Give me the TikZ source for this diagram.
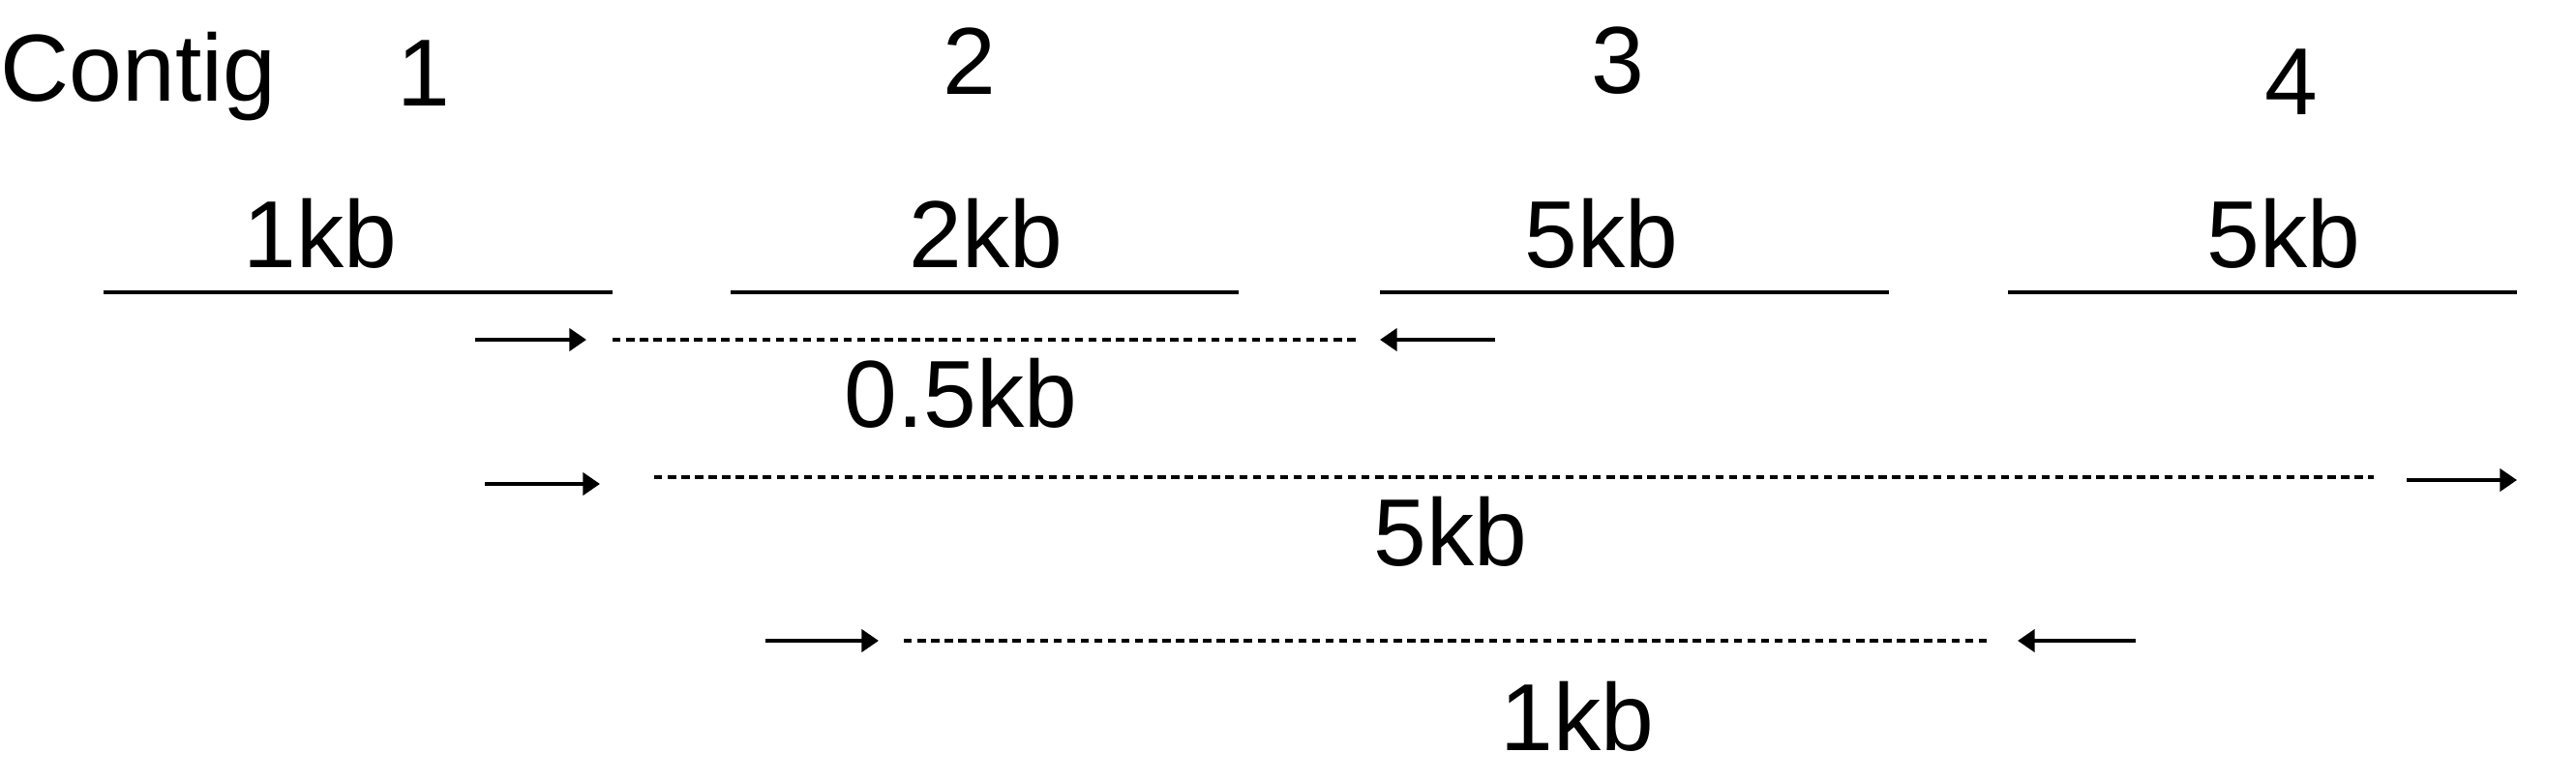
\documentclass[tikz,border=0pt]{standalone}
\usepackage{fontspec}
\setmainfont{Liberation Sans}
\usetikzlibrary{arrows.meta}

\begin{document}
\begin{tikzpicture}
        \useasboundingbox (0,0) rectangle (26.62,8.08);
        \begin{scope}[every node/.style={inner sep=0, font=\fontsize{28}{33}\selectfont}]
                \node[anchor=base west] (T) at (0,7.03) {Contig};
                \node (N1) at (4.38,7.32) {1};
                \node (N2) at (10.02,7.45) {2};
                \node (N3) at (16.72,7.45) {3};
                \node (N4) at (23.68,7.23) {4};
                \node (L1) at (3.31,5.67) {1kb};
                \node (L2) at (10.19,5.67) {2kb};
                \node (L3) at (16.55,5.67) {5kb};
                \node (L4) at (23.60,5.67) {5kb};
                \node (G1) at (9.93,4.02) {0.5kb};
                \node (G2) at (14.99,2.59) {5kb};
                \node (G3) at (16.30,0.68) {1kb};
        \end{scope}
        % contigs
        \coordinate (C1a) at (1.07,5.06);  \coordinate (C1b) at (6.33,5.06);
        \coordinate (C2a) at (7.55,5.06);  \coordinate (C2b) at (12.80,5.06);
        \coordinate (C3a) at (14.26,5.06); \coordinate (C3b) at (19.52,5.06);
        \coordinate (C4a) at (20.75,5.06); \coordinate (C4b) at (26.01,5.06);
        % read pairs
        \coordinate (A1a) at (4.91,4.57);  \coordinate (A1b) at (6.06,4.57);
        \coordinate (D1a) at (6.33,4.57);  \coordinate (D1b) at (14.02,4.57);
        \coordinate (B1a) at (15.45,4.57); \coordinate (B1b) at (14.26,4.57);
        \coordinate (A2a) at (5.01,3.08);  \coordinate (A2b) at (6.20,3.08);
        \coordinate (D2a) at (6.76,3.15);  \coordinate (D2b) at (24.53,3.15);
        \coordinate (B2a) at (24.87,3.12); \coordinate (B2b) at (26.01,3.12);
        \coordinate (A3a) at (7.91,1.46);  \coordinate (A3b) at (9.08,1.46);
        \coordinate (D3a) at (9.34,1.46);  \coordinate (D3b) at (20.58,1.46);
        \coordinate (B3a) at (22.07,1.46); \coordinate (B3b) at (20.85,1.46);
        \begin{scope}[every path/.style={line width=1.2pt}]
                \path (C1a) edge (C1b);
                \path (C2a) edge (C2b);
                \path (C3a) edge (C3b);
                \path (C4a) edge (C4b);
        \end{scope}
        \begin{scope}[every path/.style={line width=1.2pt, -{Triangle[length=5pt,width=6.5pt]}}]
                \path (A1a) edge (A1b);
                \path (B1a) edge (B1b);
                \path (A2a) edge (A2b);
                \path (B2a) edge (B2b);
                \path (A3a) edge (A3b);
                \path (B3a) edge (B3b);
        \end{scope}
        \begin{scope}[every path/.style={line width=1.1pt, dash pattern=on 2.4pt off 1.6pt}]
                \path (D1a) edge (D1b);
                \path (D2a) edge (D2b);
                \path (D3a) edge (D3b);
        \end{scope}
\end{tikzpicture}
\end{document}
